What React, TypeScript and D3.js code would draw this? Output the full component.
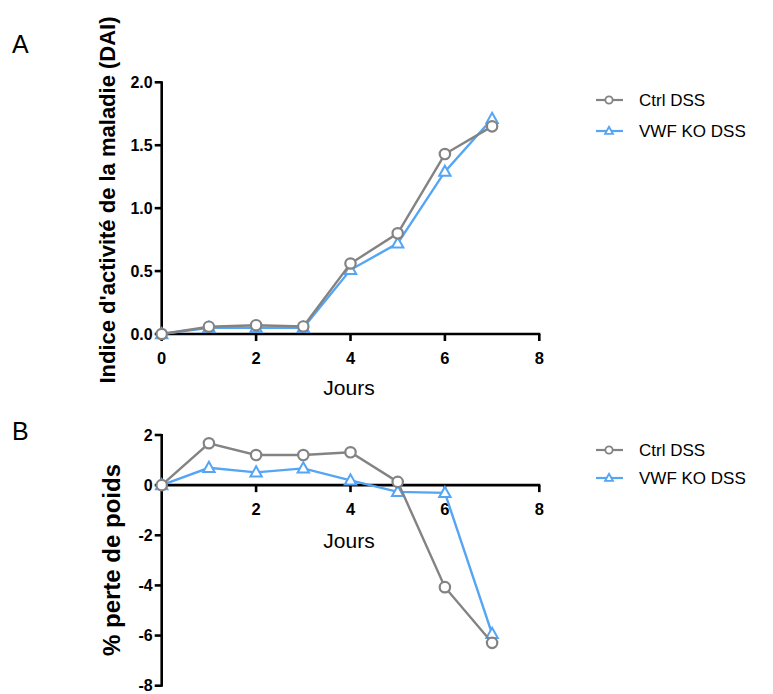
import React from "react";
import * as d3 from "d3";

const days = [0, 1, 2, 3, 4, 5, 6, 7];
const seriesNames = ["Ctrl DSS", "VWF KO DSS"];
const daiCtrl = [0, 0.058, 0.07, 0.06, 0.56, 0.8, 1.43, 1.65];
const daiKO = [0, 0.05, 0.05, 0.05, 0.51, 0.72, 1.29, 1.71];
const weightCtrl = [0, 1.67, 1.2, 1.2, 1.31, 0.13, -4.07, -6.29];
const weightKO = [0, 0.69, 0.51, 0.67, 0.19, -0.27, -0.31, -5.93];
const daiTicks = [0, 0.5, 1.0, 1.5, 2.0];
const weightTicks = [2, 0, -2, -4, -6, -8];
const xTicksA = [0, 2, 4, 6, 8];
const xTicksB = [2, 4, 6, 8];

const GREY = "#838383";
const BLUE = "#55a5f5";
const FONT = "'Liberation Sans', Arial, sans-serif";

function Marker({ kind, x, y, color, small }: { kind: string; x: number; y: number; color: string; small?: boolean }) {
  const k = small ? 0.7 : 1;
  if (kind === "circle") {
    return <circle cx={x} cy={y} r={5.2 * k} fill="white" stroke={color} strokeWidth={2.2 * (small ? 0.85 : 1)} />;
  }
  const s = 6 * k;
  const p = `M${x},${y - s}L${x + s * 0.95},${y + s * 0.7}L${x - s * 0.95},${y + s * 0.7}Z`;
  return <path d={p} fill="white" stroke={color} strokeWidth={2 * (small ? 0.9 : 1)} />;
}

function Panel({
  yDomain, yTop, yBottom, yTicks, xTicks, ctrl, ko, fmt, yLabel, yLabelCenter, yLabelX, yLabelSize, jourY, legendY, legendGap,
}: any) {
  const x = d3.scaleLinear().domain([0, 8]).range([161.7, 539.3]);
  const y = d3.scaleLinear().domain(yDomain).range([yBottom, yTop]);
  const y0 = y(0);
  const line = d3.line<number>().x((_, i) => x(days[i])).y((d) => y(d));
  const series = [
    { name: seriesNames[1], data: ko, color: BLUE, kind: "tri" },
    { name: seriesNames[0], data: ctrl, color: GREY, kind: "circle" },
  ];
  return (
    <g>
      <line x1={x(0)} x2={x(0)} y1={yTop - 1} y2={yBottom + 1} stroke="black" strokeWidth={2.6} />
      {yTicks.map((t: number) => (
        <g key={"y" + t}>
          <line x1={x(0) - 7} x2={x(0)} y1={y(t)} y2={y(t)} stroke="black" strokeWidth={2.6} />
          <text x={x(0) - 9} y={y(t)} dy="0.36em" textAnchor="end" fontFamily={FONT} fontWeight="bold" fontSize={16}>
            {fmt(t)}
          </text>
        </g>
      ))}
      <line x1={x(0)} x2={x(8) + 1} y1={y0} y2={y0} stroke="black" strokeWidth={2.6} />
      {xTicks.map((t: number) => (
        <g key={"x" + t}>
          <line x1={x(t)} x2={x(t)} y1={y0} y2={y0 + 7} stroke="black" strokeWidth={2.6} />
          <text x={x(t)} y={y0 + 24} dy="0.36em" textAnchor="middle" fontFamily={FONT} fontWeight="bold" fontSize={16.5}>
            {t}
          </text>
        </g>
      ))}
      <text x={349} y={jourY} dy="0.36em" textAnchor="middle" fontFamily={FONT} fontSize={21}>
        Jours
      </text>
      <text
        transform={`translate(${yLabelX},${yLabelCenter}) rotate(-90)`}
        textAnchor="middle"
        fontFamily={FONT}
        fontWeight="bold"
        fontSize={yLabelSize}
      >
        {yLabel}
      </text>
      {series.map((s) => (
        <g key={s.name}>
          <path d={line(s.data) || ""} fill="none" stroke={s.color} strokeWidth={2.4} />
          {s.data.map((v: number, i: number) => (
            <Marker key={i} kind={s.kind} x={x(days[i])} y={y(v)} color={s.color} />
          ))}
        </g>
      ))}
      {[series[1], series[0]].map((s, i) => (
        <g key={"lg" + s.name}>
          <line x1={596} x2={623} y1={legendY + i * legendGap} y2={legendY + i * legendGap} stroke={s.color} strokeWidth={2.2} />
          <Marker kind={s.kind} x={609} y={legendY + i * legendGap} color={s.color} small />
          <text x={639} y={legendY + i * legendGap} dy="0.36em" fontFamily={FONT} fontSize={17}>
            {s.name}
          </text>
        </g>
      ))}
    </g>
  );
}

export default function App() {
  return (
    <svg width={773} height={694} style={{ display: "block", position: "absolute", left: 0, top: 0 }}>
      <rect width={773} height={694} fill="white" />
      <text x={12} y={53} fontFamily={FONT} fontSize={25}>A</text>
      <text x={12} y={440} fontFamily={FONT} fontSize={25}>B</text>
      <Panel
        yDomain={[0, 2]}
        yTop={82.3}
        yBottom={334}
        yTicks={daiTicks}
        xTicks={xTicksA}
        ctrl={daiCtrl}
        ko={daiKO}
        fmt={(t: number) => t.toFixed(1)}
        yLabel="Indice d'activité de la maladie (DAI)"
        yLabelCenter={200}
        yLabelX={115}
        yLabelSize={22}
        jourY={387}
        legendY={100}
        legendGap={31}
      />
      <Panel
        yDomain={[-8, 2]}
        yTop={435}
        yBottom={685.7}
        yTicks={weightTicks}
        xTicks={xTicksB}
        ctrl={weightCtrl}
        ko={weightKO}
        fmt={(t: number) => String(t)}
        yLabel="% perte de poids"
        yLabelCenter={560}
        yLabelX={120}
        yLabelSize={24}
        jourY={540}
        legendY={450}
        legendGap={28}
      />
    </svg>
  );
}
